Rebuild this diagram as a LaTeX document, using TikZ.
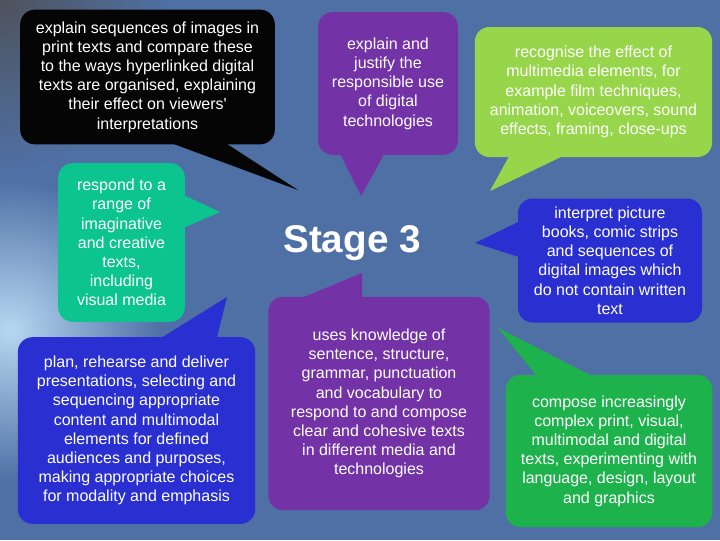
\documentclass[tikz,border=0pt]{standalone}
\usepackage{fontspec}
\setsansfont{Liberation Sans}
\usepackage{tikz}
\usetikzlibrary{calc}
\definecolor{fondo}{HTML}{4F70A5}
\definecolor{fondoclaro}{HTML}{B5D8F2}
\definecolor{fondogris}{HTML}{4E535C}
\definecolor{negro}{HTML}{050505}
\definecolor{morado}{HTML}{7332A6}
\definecolor{lima}{HTML}{97D64A}
\definecolor{turquesa}{HTML}{0BC48E}
\definecolor{azul}{HTML}{2A2FD2}
\definecolor{verde}{HTML}{1EB24C}

\begin{document}
\begin{tikzpicture}[
  x=0.75pt, y=-0.75pt,
  globo/.style={
    rectangle, rounded corners=11pt, inner sep=0pt,
    text=white, align=center,
    font=\sffamily\fontsize{12}{14.4}\selectfont
  },
  titulo/.style={text=white, font=\sffamily\bfseries\fontsize{29}{34}\selectfont}
]
  % fondo
  \useasboundingbox (0,0) rectangle (720,540);
  \fill[fondo] (0,0) rectangle (720,540);
  \begin{scope}
    \clip (0,0) rectangle (720,540);
    \shade[inner color=fondoclaro, outer color=fondo] (10,330) circle (150);
    \shade[inner color=fondogris, outer color=fondo] (0,0) circle (170);
  \end{scope}

  % globos
  \node[globo, fill=negro, minimum width=191pt, minimum height=101pt] (expl) at (147.5,77)
    {explain sequences of images in\\print texts and compare these\\to the ways hyperlinked digital\\texts are organised, explaining\\their effect on viewers\textquotesingle\\interpretations};
  \node[globo, fill=morado, minimum width=105pt, minimum height=107pt] (just) at (388,83.5)
    {explain and\\justify the\\responsible use\\of digital\\technologies};
  \node[globo, fill=lima, minimum width=178pt, minimum height=97.5pt] (reco) at (593.5,92)
    {recognise the effect of\\multimedia elements, for\\example film techniques,\\animation, voiceovers, sound\\effects, framing, close-ups};
  \node[globo, fill=turquesa, minimum width=95pt, minimum height=119pt] (resp) at (121.5,242.5)
    {respond to a\\range of\\imaginative\\and creative\\texts,\\including\\visual media};
  \node[globo, fill=azul, minimum width=178pt, minimum height=140pt] (plan) at (136.5,430.5)
    {plan, rehearse and deliver\\presentations, selecting and\\sequencing appropriate\\content and multimodal\\elements for defined\\audiences and purposes,\\making appropriate choices\\for modality and emphasis};
  \node[globo, fill=morado, minimum width=166pt, minimum height=160pt] (uses) at (379,403.5)
    {uses knowledge of\\sentence, structure,\\grammar, punctuation\\and vocabulary to\\respond to and compose\\clear and cohesive texts\\in different media and\\technologies};
  \node[globo, fill=azul, minimum width=138pt, minimum height=93pt] (inte) at (610,260.5)
    {interpret picture\\books, comic strips\\and sequences of\\digital images which\\do not contain written\\text};
  \node[globo, fill=verde, minimum width=155pt, minimum height=114pt] (comp) at (609,451)
    {compose increasingly\\complex print, visual,\\multimodal and digital\\texts, experimenting with\\language, design, layout\\and graphics};

  \node[titulo] (stage) at (352,243) {Stage 3};

  % colas
  \coordinate (expltip) at (298,190);
  \coordinate (justtip) at (361,196);
  \coordinate (recotip) at (490,191);
  \coordinate (resptip) at (220,212);
  \coordinate (plantip) at (227,297);
  \coordinate (usestip) at (362,273);
  \coordinate (intetip) at (475,243);
  \coordinate (comptip) at (498,328);

  \fill[negro]    ($(expl.south west)+(150,-2)$) -- (expltip) -- ($(expl.south west)+(205,-2)$) -- cycle;
  \fill[morado]   ($(just.south west)+(22,-2)$)  -- (justtip) -- ($(just.south west)+(67,-2)$)  -- cycle;
  \fill[lima]     ($(reco.south west)+(35,-2)$)  -- (recotip) -- ($(reco.south west)+(90,-2)$)  -- cycle;
  \fill[turquesa] ($(resp.north east)+(-2,32)$)  -- (resptip) -- ($(resp.north east)+(-2,65)$)  -- cycle;
  \fill[azul]     ($(plan.north west)+(142,2)$)  -- (plantip) -- ($(plan.north west)+(199,2)$)  -- cycle;
  \fill[morado]   ($(uses.north west)+(32,2)$)   -- (usestip) -- ($(uses.north west)+(94,2)$)   -- cycle;
  \fill[azul]     ($(inte.north west)+(2,23)$)   -- (intetip) -- ($(inte.north west)+(2,59)$)   -- cycle;
  \fill[verde]    ($(comp.north west)+(32,2)$)   -- (comptip) -- ($(comp.north west)+(88,2)$)   -- cycle;
\end{tikzpicture}
\end{document}
